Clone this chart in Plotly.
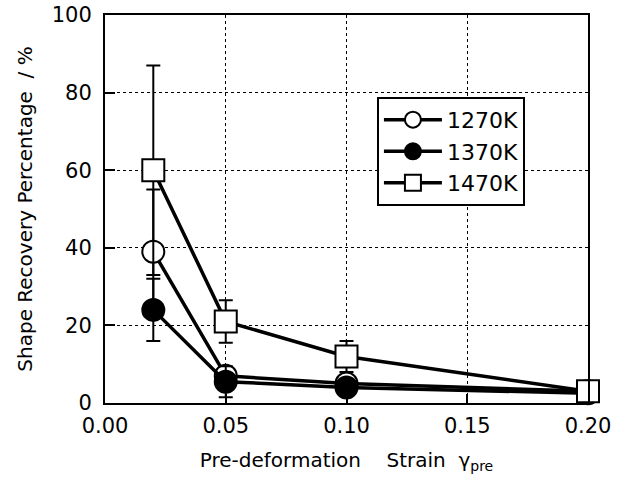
import plotly.graph_objects as go

strain = [0.02, 0.05, 0.10, 0.20]
series_names = ["1270K", "1370K", "1470K"]
rec_1270 = [39, 7, 5, 3]
rec_1370 = [24, 5.5, 4, 2.5]
rec_1470 = [60, 21, 12, 3]
err_1270 = [16, 2, 1.5, 0]
err_1370 = [8, 4, 1.5, 0]
err_1470 = [27, 5.5, 4, 0]
x_ticks = [0.00, 0.05, 0.10, 0.15, 0.20]
y_ticks = [0, 20, 40, 60, 80, 100]

FONT = "DejaVu Sans, Liberation Sans, Arial, sans-serif"

styles = [
    dict(symbol="circle", color="white"),
    dict(symbol="circle", color="black"),
    dict(symbol="square", color="white"),
]
ys = [rec_1270, rec_1370, rec_1470]
errs = [err_1270, err_1370, err_1470]

fig = go.Figure()
for name, y, e, st in zip(series_names, ys, errs, styles):
    fig.add_trace(go.Scatter(
        x=strain, y=y, name=name, mode="lines+markers",
        line=dict(color="black", width=3.5),
        marker=dict(symbol=st["symbol"], size=22, color=st["color"],
                    line=dict(color="black", width=2)),
        error_y=dict(type="data", array=e, visible=True, color="black",
                     thickness=2, width=7),
        cliponaxis=False,
    ))

fig.update_layout(
    width=628, height=492,
    margin=dict(l=105, r=40, t=15, b=89),
    paper_bgcolor="white", plot_bgcolor="white",
    font=dict(family=FONT, color="black"),
    showlegend=True,
    legend=dict(x=0.563, y=0.789, xanchor="left", yanchor="top",
                bordercolor="black", borderwidth=2, bgcolor="white",
                font=dict(size=22, family=FONT), tracegroupgap=0,
                itemwidth=58),
    xaxis=dict(
        range=[0, 0.20], tickvals=x_ticks, tickformat=".2f",
        ticks="inside", ticklen=9, tickwidth=2, tickcolor="black",
        showline=True, linecolor="black", linewidth=2, mirror=True,
        showgrid=True, gridcolor="black", gridwidth=1, griddash="dot",
        zeroline=False, automargin=False, ticklabelstandoff=3,
        tickfont=dict(size=21, family=FONT),
        title=dict(text="Pre-deformation    Strain  γ<sub>pre</sub>",
                   font=dict(size=20, family=FONT), standoff=16),
    ),
    yaxis=dict(
        range=[0, 100], tickvals=y_ticks,
        ticks="inside", ticklen=10, tickwidth=2, tickcolor="black",
        showline=True, linecolor="black", linewidth=2, mirror=True,
        showgrid=True, gridcolor="black", gridwidth=1, griddash="dot",
        zeroline=False, automargin=False, ticklabelstandoff=7,
        tickfont=dict(size=21, family=FONT),
        title=dict(text="Shape Recovery Percentage  / %",
                   font=dict(size=20, family=FONT), standoff=14),
    ),
)

fig.write_html("out.html",
               config={"displayModeBar": False},
               post_script="document.body.style.margin='0';document.body.style.overflow='hidden';")
